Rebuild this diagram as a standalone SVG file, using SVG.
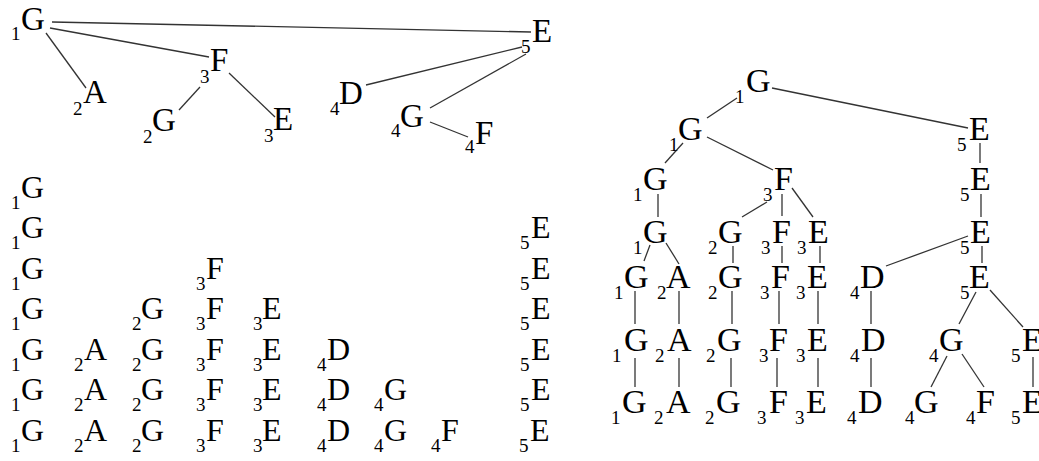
<svg xmlns="http://www.w3.org/2000/svg" width="1039" height="461" viewBox="0 0 1039 461">
<style>
text{font-family:"Liberation Serif","Times New Roman",serif;fill:#000}
.L{font-size:33px}
.S{font-size:19px}
.R{font-size:34px}
.G{font-size:32px}
.e line{stroke:#333;stroke-width:1.3;fill:none}
</style>
<rect width="1039" height="461" fill="#fff"/>
<!-- Top-left tree -->
<g class="e" id="edges-top">
<line x1="52" y1="22" x2="531" y2="32"/>
<line x1="50" y1="28" x2="209" y2="57"/>
<line x1="46" y1="33" x2="86" y2="88"/>
<line x1="200" y1="87" x2="179" y2="110"/>
<line x1="229" y1="73" x2="275" y2="117"/>
<line x1="522" y1="47" x2="366" y2="85"/>
<line x1="526" y1="54" x2="430" y2="108"/>
<line x1="430" y1="122" x2="468" y2="137"/>
</g>
<g id="t-1G"><text class="S" x="11" y="40">1</text><text class="L" x="21" y="30">G</text></g>
<g id="t-2A"><text class="S" x="73" y="115">2</text><text class="L" x="83" y="103">A</text></g>
<g id="t-3F"><text class="S" x="200" y="83">3</text><text class="L" x="210" y="71">F</text></g>
<g id="t-2G"><text class="S" x="143" y="143">2</text><text class="L" x="152" y="131">G</text></g>
<g id="t-3E"><text class="S" x="264" y="142">3</text><text class="L" x="273" y="130">E</text></g>
<g id="t-4D"><text class="S" x="330" y="115">4</text><text class="L" x="339" y="104">D</text></g>
<g id="t-4G"><text class="S" x="391" y="137">4</text><text class="L" x="400" y="127">G</text></g>
<g id="t-4F"><text class="S" x="465" y="153">4</text><text class="L" x="475" y="144">F</text></g>
<g id="t-5E"><text class="S" x="521" y="53">5</text><text class="L" x="532" y="42">E</text></g>
<!-- Grid -->
<g id="grid">
<text class="S" x="11" y="209">1</text><text class="G" x="21" y="198">G</text>
<text class="S" x="11" y="249">1</text><text class="G" x="21" y="238">G</text>
<text class="S" x="520" y="249">5</text><text class="G" x="531" y="238">E</text>
<text class="S" x="11" y="290">1</text><text class="G" x="21" y="279">G</text>
<text class="S" x="196" y="290">3</text><text class="G" x="206" y="279">F</text>
<text class="S" x="520" y="290">5</text><text class="G" x="531" y="279">E</text>
<text class="S" x="11" y="330">1</text><text class="G" x="21" y="319">G</text>
<text class="S" x="132" y="330">2</text><text class="G" x="141" y="319">G</text>
<text class="S" x="196" y="330">3</text><text class="G" x="206" y="319">F</text>
<text class="S" x="253" y="330">3</text><text class="G" x="262" y="319">E</text>
<text class="S" x="520" y="330">5</text><text class="G" x="531" y="319">E</text>
<text class="S" x="11" y="371">1</text><text class="G" x="21" y="360">G</text>
<text class="S" x="74" y="371">2</text><text class="G" x="84" y="360">A</text>
<text class="S" x="132" y="371">2</text><text class="G" x="141" y="360">G</text>
<text class="S" x="196" y="371">3</text><text class="G" x="206" y="360">F</text>
<text class="S" x="253" y="371">3</text><text class="G" x="262" y="360">E</text>
<text class="S" x="317" y="371">4</text><text class="G" x="327" y="360">D</text>
<text class="S" x="520" y="371">5</text><text class="G" x="531" y="360">E</text>
<text class="S" x="11" y="411">1</text><text class="G" x="21" y="400">G</text>
<text class="S" x="74" y="411">2</text><text class="G" x="84" y="400">A</text>
<text class="S" x="132" y="411">2</text><text class="G" x="141" y="400">G</text>
<text class="S" x="196" y="411">3</text><text class="G" x="206" y="400">F</text>
<text class="S" x="253" y="411">3</text><text class="G" x="262" y="400">E</text>
<text class="S" x="317" y="411">4</text><text class="G" x="327" y="400">D</text>
<text class="S" x="374" y="411">4</text><text class="G" x="384" y="400">G</text>
<text class="S" x="520" y="411">5</text><text class="G" x="531" y="400">E</text>
<text class="S" x="11" y="452">1</text><text class="G" x="21" y="441">G</text>
<text class="S" x="74" y="452">2</text><text class="G" x="84" y="441">A</text>
<text class="S" x="132" y="452">2</text><text class="G" x="141" y="441">G</text>
<text class="S" x="196" y="452">3</text><text class="G" x="206" y="441">F</text>
<text class="S" x="253" y="452">3</text><text class="G" x="262" y="441">E</text>
<text class="S" x="317" y="452">4</text><text class="G" x="327" y="441">D</text>
<text class="S" x="374" y="452">4</text><text class="G" x="384" y="441">G</text>
<text class="S" x="431" y="452">4</text><text class="G" x="441" y="441">F</text>
<text class="S" x="519" y="452">5</text><text class="G" x="530" y="441">E</text>
</g>
<!-- Right tree -->
<g class="e" id="edges-right">
<line x1="737" y1="98" x2="707" y2="118"/>
<line x1="772" y1="88" x2="968" y2="128"/>
<line x1="683" y1="143" x2="665" y2="163"/>
<line x1="707" y1="137" x2="773" y2="170"/>
<line x1="980" y1="143" x2="980" y2="163"/>
<line x1="658" y1="194" x2="658" y2="217"/>
<line x1="767" y1="202" x2="742" y2="217"/>
<line x1="782" y1="194" x2="782" y2="216"/>
<line x1="792" y1="188" x2="813" y2="217"/>
<line x1="981" y1="194" x2="981" y2="217"/>
<line x1="650" y1="245" x2="644" y2="261"/>
<line x1="666" y1="243" x2="679" y2="264"/>
<line x1="733" y1="246" x2="733" y2="263"/>
<line x1="782" y1="246" x2="782" y2="263"/>
<line x1="820" y1="246" x2="820" y2="263"/>
<line x1="968" y1="236" x2="886" y2="266"/>
<line x1="982" y1="246" x2="982" y2="263"/>
<line x1="635" y1="291" x2="635" y2="324"/>
<line x1="679" y1="291" x2="679" y2="324"/>
<line x1="732" y1="291" x2="732" y2="324"/>
<line x1="779" y1="291" x2="779" y2="324"/>
<line x1="818" y1="291" x2="818" y2="324"/>
<line x1="871" y1="291" x2="871" y2="324"/>
<line x1="976" y1="292" x2="959" y2="324"/>
<line x1="990" y1="290" x2="1023" y2="327"/>
<line x1="635" y1="358" x2="635" y2="387"/>
<line x1="679" y1="358" x2="679" y2="387"/>
<line x1="731" y1="358" x2="731" y2="387"/>
<line x1="777" y1="358" x2="777" y2="387"/>
<line x1="818" y1="358" x2="818" y2="387"/>
<line x1="871" y1="358" x2="871" y2="387"/>
<line x1="947" y1="356" x2="931" y2="387"/>
<line x1="962" y1="354" x2="984" y2="387"/>
<line x1="1033" y1="357" x2="1033" y2="387"/>
</g>
<g id="r1"><text class="S" x="735" y="103">1</text><text class="R" x="746" y="92">G</text></g>
<g id="r2"><text class="S" x="669" y="151">1</text><text class="R" x="678" y="140">G</text></g>
<g id="r3"><text class="S" x="957" y="151">5</text><text class="R" x="969" y="140">E</text></g>
<g id="r4"><text class="S" x="633" y="201">1</text><text class="R" x="643" y="190">G</text></g>
<g id="r5"><text class="S" x="763" y="201">3</text><text class="R" x="774" y="190">F</text></g>
<g id="r6"><text class="S" x="960" y="201">5</text><text class="R" x="970" y="190">E</text></g>
<g id="r7"><text class="S" x="633" y="254">1</text><text class="R" x="643" y="243">G</text></g>
<g id="r8"><text class="S" x="708" y="254">2</text><text class="R" x="718" y="243">G</text></g>
<g id="r9"><text class="S" x="761" y="254">3</text><text class="R" x="772" y="243">F</text></g>
<g id="r10"><text class="S" x="797" y="254">3</text><text class="R" x="808" y="243">E</text></g>
<g id="r11"><text class="S" x="960" y="254">5</text><text class="R" x="970" y="243">E</text></g>
<g id="r12"><text class="S" x="614" y="299">1</text><text class="R" x="624" y="288">G</text></g>
<g id="r13"><text class="S" x="657" y="299">2</text><text class="R" x="666" y="288">A</text></g>
<g id="r14"><text class="S" x="708" y="299">2</text><text class="R" x="718" y="288">G</text></g>
<g id="r15"><text class="S" x="760" y="299">3</text><text class="R" x="771" y="288">F</text></g>
<g id="r16"><text class="S" x="796" y="299">3</text><text class="R" x="807" y="288">E</text></g>
<g id="r17"><text class="S" x="850" y="299">4</text><text class="R" x="860" y="288">D</text></g>
<g id="r18"><text class="S" x="960" y="299">5</text><text class="R" x="969" y="288">E</text></g>
<g id="r19"><text class="S" x="612" y="362">1</text><text class="R" x="624" y="351">G</text></g>
<g id="r20"><text class="S" x="655" y="362">2</text><text class="R" x="667" y="351">A</text></g>
<g id="r21"><text class="S" x="706" y="362">2</text><text class="R" x="717" y="351">G</text></g>
<g id="r22"><text class="S" x="759" y="362">3</text><text class="R" x="769" y="351">F</text></g>
<g id="r23"><text class="S" x="796" y="362">3</text><text class="R" x="807" y="351">E</text></g>
<g id="r24"><text class="S" x="850" y="362">4</text><text class="R" x="861" y="351">D</text></g>
<g id="r25"><text class="S" x="929" y="362">4</text><text class="R" x="939" y="351">G</text></g>
<g id="r26"><text class="S" x="1011" y="362">5</text><text class="R" x="1022" y="351">E</text></g>
<g id="r27"><text class="S" x="611" y="424">1</text><text class="R" x="622" y="413">G</text></g>
<g id="r28"><text class="S" x="654" y="424">2</text><text class="R" x="666" y="413">A</text></g>
<g id="r29"><text class="S" x="705" y="424">2</text><text class="R" x="716" y="413">G</text></g>
<g id="r30"><text class="S" x="757" y="424">3</text><text class="R" x="769" y="413">F</text></g>
<g id="r31"><text class="S" x="795" y="424">3</text><text class="R" x="806" y="413">E</text></g>
<g id="r32"><text class="S" x="847" y="424">4</text><text class="R" x="858" y="413">D</text></g>
<g id="r33"><text class="S" x="905" y="424">4</text><text class="R" x="914" y="413">G</text></g>
<g id="r34"><text class="S" x="966" y="424">4</text><text class="R" x="976" y="413">F</text></g>
<g id="r35"><text class="S" x="1011" y="424">5</text><text class="R" x="1022" y="413">E</text></g>
</svg>
